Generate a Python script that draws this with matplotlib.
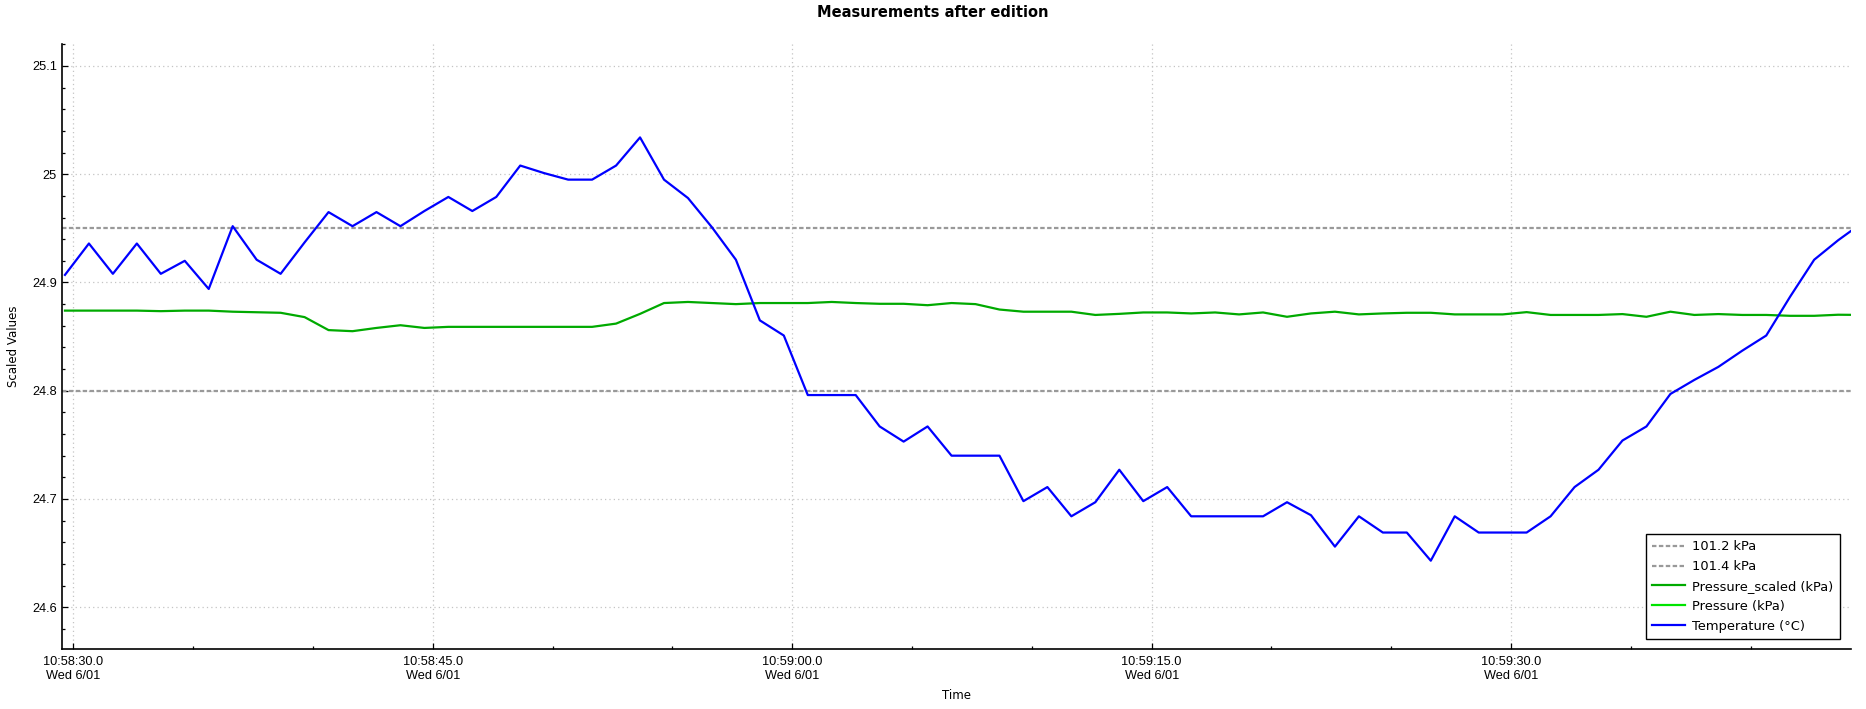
import matplotlib
matplotlib.use("Agg")
import matplotlib.pyplot as plt
import matplotlib.dates as mdates
from matplotlib.ticker import MultipleLocator, FuncFormatter
import pandas as pd

# sample times: one reading per second
start_time = "2022-06-01 10:58:29.650"
n_samples = 76

temperature = [
    24.907, 24.936, 24.908, 24.936, 24.908, 24.920, 24.894, 24.952, 24.921, 24.908,
    24.937, 24.965, 24.952, 24.965, 24.952, 24.966, 24.979, 24.966, 24.979, 25.008,
    25.001, 24.995, 24.995, 25.008, 25.034, 24.995, 24.978, 24.951, 24.921, 24.865,
    24.851, 24.796, 24.796, 24.796, 24.767, 24.753, 24.767, 24.740, 24.740, 24.740,
    24.698, 24.711, 24.684, 24.697, 24.727, 24.698, 24.711, 24.684, 24.684, 24.684,
    24.684, 24.697, 24.685, 24.656, 24.684, 24.669, 24.669, 24.643, 24.684, 24.669,
    24.669, 24.669, 24.684, 24.711, 24.727, 24.754, 24.767, 24.797, 24.810, 24.822,
    24.837, 24.851, 24.887, 24.921, 24.939, 24.955,
]

pressure_scaled = [
    24.874, 24.874, 24.874, 24.874, 24.8735, 24.874, 24.874, 24.873, 24.8725, 24.872,
    24.868, 24.856, 24.855, 24.858, 24.8605, 24.858, 24.859, 24.859, 24.859, 24.859,
    24.859, 24.859, 24.859, 24.862, 24.871, 24.881, 24.882, 24.881, 24.880, 24.881,
    24.881, 24.881, 24.882, 24.881, 24.8803, 24.8803, 24.879, 24.881, 24.880, 24.875,
    24.873, 24.873, 24.873, 24.870, 24.871, 24.8723, 24.8723, 24.8714, 24.8723, 24.8705,
    24.8723, 24.8683, 24.8714, 24.873, 24.8705, 24.8714, 24.872, 24.872, 24.8705, 24.8705,
    24.8705, 24.8726, 24.870, 24.870, 24.870, 24.8708, 24.8683, 24.873, 24.870, 24.8708,
    24.870, 24.870, 24.8692, 24.8692, 24.8702, 24.870,
]

ref_levels = [24.95, 24.80]
ref_labels = ["101.2 kPa", "101.4 kPa"]

times = pd.date_range(start=start_time, periods=n_samples, freq="1s")

fig = plt.figure(figsize=(18.66, 7.09), dpi=100)
ax = fig.add_axes([0.0334, 0.0846, 0.9586, 0.8529])

for lvl, lab in zip(ref_levels, ref_labels):
    ax.axhline(lvl, color="#999999", lw=1.6, dashes=(2.0, 1.1), label=lab, zorder=2)

ax.plot(times, pressure_scaled, color="#00aa00", lw=1.6, label="Pressure_scaled (kPa)", zorder=3)
# raw pressure lies far outside this view; only its legend entry shows
ax.plot([], [], color="#00e400", lw=1.6, label="Pressure (kPa)")
ax.plot(times, temperature, color="#0000ff", lw=1.6, label="Temperature (°C)", zorder=4)

ax.set_xlim(pd.Timestamp("2022-06-01 10:58:29.540"), pd.Timestamp("2022-06-01 10:59:44.190"))
ax.set_ylim(24.5614, 25.120)

ax.xaxis.set_major_locator(mdates.SecondLocator(bysecond=[0, 15, 30, 45]))
ax.xaxis.set_minor_locator(mdates.SecondLocator(bysecond=range(0, 60, 5)))


def fmt_time(x, pos):
    d = mdates.num2date(x)
    return f"{d:%H:%M:%S}.{d.microsecond // 100000}\n{d:%a} {d.month}/{d:%d}"


ax.xaxis.set_major_formatter(FuncFormatter(fmt_time))
ax.yaxis.set_major_locator(MultipleLocator(0.1))
ax.yaxis.set_minor_locator(MultipleLocator(0.02))
ax.yaxis.set_major_formatter(FuncFormatter(lambda v, p: f"{v:g}"))

ax.grid(True, which="major", color="#c4c4c4", linestyle=(0, (1, 2.5)), lw=0.9, zorder=0)
ax.set_axisbelow(True)

for s in ["top", "right"]:
    ax.spines[s].set_visible(False)
for s in ["left", "bottom"]:
    ax.spines[s].set_color("black")
    ax.spines[s].set_linewidth(1.2)

ax.tick_params(which="major", direction="in", length=4, width=0.9, colors="black",
               labelsize=9.2, labelfontfamily="Liberation Sans")
ax.tick_params(which="minor", direction="in", length=2.2, width=0.9, colors="black")
ax.tick_params(axis="x", which="major", pad=5)
ax.tick_params(axis="y", which="major", pad=4)

ax.set_ylabel("Scaled Values", fontsize=8.5, family="DejaVu Sans")
ax.yaxis.set_label_coords(-0.0236, 0.5)
ax.set_xlabel("Time", fontsize=8.5, family="DejaVu Sans")
ax.xaxis.set_label_coords(0.5, -0.0661)

fig.text(0.5, 0.9817, "Measurements after edition", ha="center", va="center",
         fontsize=10.5, fontweight="bold", family="DejaVu Sans")

leg = ax.legend(loc="lower right", bbox_to_anchor=(0.9938, 0.0165), borderaxespad=0,
                fontsize=9.4, frameon=True, fancybox=False, handlelength=2.5,
                handletextpad=0.55, labelspacing=0.52, borderpad=0.5)
leg.get_frame().set_edgecolor("black")
leg.get_frame().set_linewidth(1.0)
leg.get_frame().set_alpha(1)

fig.savefig("out.png", dpi=100, facecolor="white")
